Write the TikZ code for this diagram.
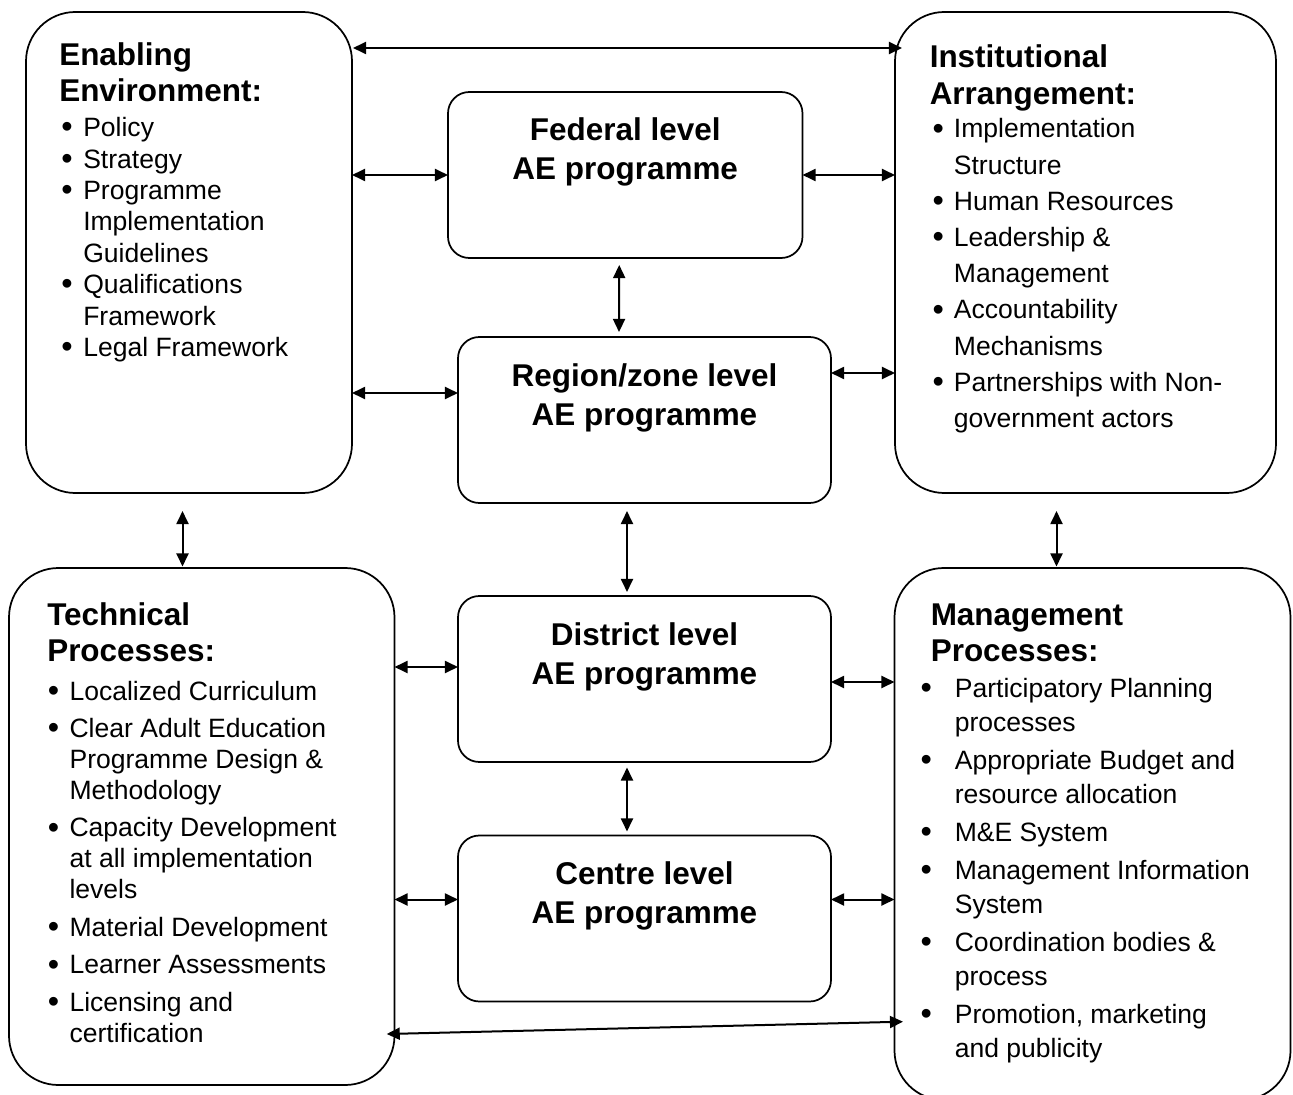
\documentclass[tikz,border=0pt]{standalone}
\usepackage{graphicx}
\usepackage{fontspec}
\setmainfont{Liberation Sans}
\usetikzlibrary{arrows.meta,calc}
\newlength{\bind}
\newcommand{\lbul}{\makebox[\bind][l]{\raisebox{-0.9pt}{\scalebox{1.22}{\textbullet}}}}
\newcommand{\lcont}{\hspace*{\bind}}
\tikzset{
  bigbox/.style={draw, line width=1.3pt, rounded corners=37pt, inner sep=0pt, outer sep=0pt},
  lvlbox/.style={draw, line width=1.3pt, rounded corners=16pt, inner sep=0pt, outer sep=0pt,
    minimum width=373*0.75pt, minimum height=166*0.75pt},
  arr/.style={line width=1.5pt, {Triangle[length=9.8pt,width=9pt]}-{Triangle[length=9.8pt,width=9pt]}},
  headtext/.style={inner sep=0pt, anchor=base west, font=\fontsize{23.6}{#1}\selectfont\bfseries},
  headtext/.default=27,
  listtext/.style={inner sep=0pt, anchor=base west, font=\fontsize{19.9}{#1}\selectfont},
  lvltext/.style={inner sep=0pt, anchor=base, font=\fontsize{23.6}{29.25}\selectfont\bfseries},
}
\begin{document}
\begin{tikzpicture}[x=0.75pt,y=-0.75pt]
\useasboundingbox (0,0) rectangle (1293,1095);
\clip (0,0) rectangle (1293,1095);

% big boxes
\node[bigbox, minimum width=326*0.75pt, minimum height=481*0.75pt] (ee) at (189,252.5) {};
\node[bigbox, minimum width=381*0.75pt, minimum height=481*0.75pt] (inst) at (1085.5,252.5) {};
\node[bigbox, minimum width=385.5*0.75pt, minimum height=517*0.75pt] (tech) at (201.75,826.5) {};
\node[bigbox, minimum width=396*0.75pt, minimum height=532*0.75pt] (mgmt) at (1092.5,834) {};

% level boxes
\node[lvlbox, minimum width=354.5*0.75pt] (fed) at (625.25,175) {};
\node[lvlbox] (reg) at (644.5,420) {};
\node[lvlbox] (dist) at (644.5,679) {};
\node[lvlbox] (cent) at (644.5,918.5) {};

% level texts
\node[lvltext] (fedt) at ($(fed.north)+(0,49)$) {\begin{tabular}[t]{@{}c@{}}Federal level\\AE programme\end{tabular}};
\node[lvltext] (regt) at ($(reg.north)+(0,49)$) {\begin{tabular}[t]{@{}c@{}}Region/zone level\\AE programme\end{tabular}};
\node[lvltext] (distt) at ($(dist.north)+(0,49)$) {\begin{tabular}[t]{@{}c@{}}District level\\AE programme\end{tabular}};
\node[lvltext] (centt) at ($(cent.north)+(0,49)$) {\begin{tabular}[t]{@{}c@{}}Centre level\\AE programme\end{tabular}};

% Enabling Environment
\node[headtext] (eeh) at (59,65.7) {\begin{tabular}[t]{@{}l@{}}Enabling\\Environment:\end{tabular}};
\node[listtext=23.55] (eel) at (61,136.7) {\setlength{\bind}{16.5pt}\begin{tabular}[t]{@{}l@{}}
\lbul Policy\\
\lbul Strategy\\
\lbul Programme\\
\lcont Implementation\\
\lcont Guidelines\\
\lbul Qualifications\\
\lcont Framework\\
\lbul Legal Framework
\end{tabular}};

% Institutional Arrangement
\node[headtext=27.4] (insth) at (929.5,68) {\begin{tabular}[t]{@{}l@{}}Institutional\\Arrangement:\end{tabular}};
\node[listtext=27.15] (instl) at (932.3,138) {\setlength{\bind}{16pt}\begin{tabular}[t]{@{}l@{}}
\lbul Implementation\\
\lcont Structure\\
\lbul Human Resources\\
\lbul Leadership \&\\
\lcont Management\\
\lbul Accountability\\
\lcont Mechanisms\\
\lbul Partnerships with Non-\\
\lcont government actors
\end{tabular}};

% Technical Processes
\node[headtext] (techh) at (47,625) {\begin{tabular}[t]{@{}l@{}}Technical\\Processes:\end{tabular}};
\node[listtext=23.03] (techl) at (47.7,700) {\setlength{\bind}{16.2pt}\begin{tabular}[t]{@{}l@{}}
\lbul Localized Curriculum\\[5.3pt]
\lbul Clear Adult Education\\
\lcont Programme Design \&\\
\lcont Methodology\\[5.3pt]
\lbul Capacity Development\\
\lcont at all implementation\\
\lcont levels\\[5.3pt]
\lbul Material Development\\[5.3pt]
\lbul Learner Assessments\\[5.3pt]
\lbul Licensing and\\
\lcont certification
\end{tabular}};

% Management Processes
\node[headtext] (mgmth) at (930.5,625) {\begin{tabular}[t]{@{}l@{}}Management\\Processes:\end{tabular}};
\node[listtext=25.7] (mgmtl) at (920.3,697.3) {\setlength{\bind}{25.7pt}\begin{tabular}[t]{@{}l@{}}
\lbul Participatory Planning\\
\lcont processes\\[2.6pt]
\lbul Appropriate Budget and\\
\lcont resource allocation\\[2.6pt]
\lbul M\&E System\\[2.6pt]
\lbul Management Information\\
\lcont System\\[2.6pt]
\lbul Coordination bodies \&\\
\lcont process\\[2.6pt]
\lbul Promotion, marketing\\
\lcont and publicity
\end{tabular}};

% connectors
\draw[arr] ($(ee.north east)+(1,36)$) -- ($(inst.north west)+(7,36)$);
\draw[arr] (ee.east |- fed.west) -- (fed.west);
\draw[arr] (fed.east) -- (fed.east -| inst.west);
\draw[arr] ($(fed.south)+(-6,7)$) -- ($(reg.north)+(-25.5,-5)$);
\coordinate (rw) at ($(reg.west)+(0,-27)$);
\draw[arr] (ee.east |- rw) -- (rw);
\coordinate (re) at ($(reg.east)+(0,-47)$);
\draw[arr] (re) -- (re -| inst.west);
\draw[arr] ($(ee.south)+(-6.5,18)$) -- ($(tech.north)+(-19.25,-1.5)$);
\draw[arr] ($(reg.south)+(-17.5,8)$) -- ($(dist.north)+(-17.5,-4)$);
\draw[arr] ($(inst.south)+(-29,18)$) -- ($(mgmt.north)+(-36,-1.5)$);
\coordinate (dw) at ($(dist.west)+(0,-12)$);
\draw[arr] (tech.east |- dw) -- (dw);
\coordinate (de) at ($(dist.east)+(0,3)$);
\draw[arr] (de) -- (de -| mgmt.west);
\draw[arr] ($(dist.south)+(-17.5,5.5)$) -- ($(cent.north)+(-17.5,-4)$);
\coordinate (cw) at ($(cent.west)+(0,-19)$);
\draw[arr] (tech.east |- cw) -- (cw);
\coordinate (ce) at ($(cent.east)+(0,-19)$);
\draw[arr] (ce) -- (ce -| mgmt.west);
\draw[arr] ($(tech.south east)+(-7.8,-51)$) -- ($(mgmt.west)+(8.5,187.7)$);
\end{tikzpicture}
\end{document}
